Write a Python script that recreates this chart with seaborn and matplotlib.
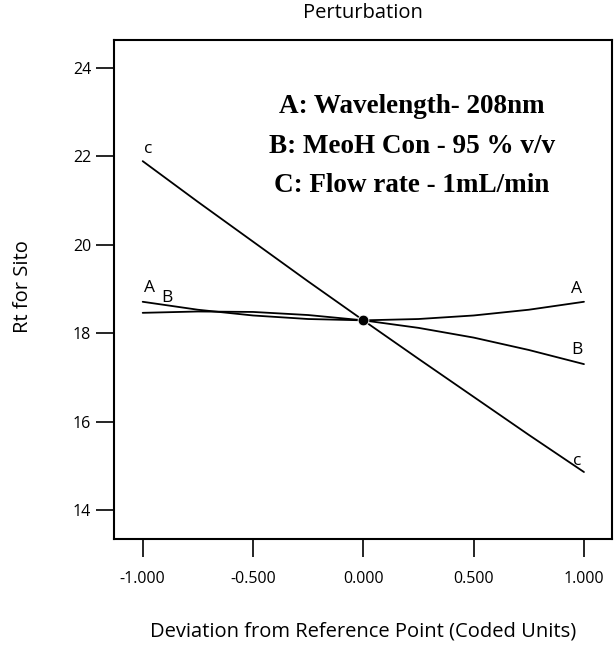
import numpy as np
import pandas as pd
import matplotlib
matplotlib.use("Agg")
import matplotlib.pyplot as plt
import seaborn as sns

# ---------------------------------------------------------
# Data
# ---------------------------------------------------------
deviation = [-1.0, -0.75, -0.5, -0.25, 0.0, 0.25, 0.5, 0.75, 1.0]
rt_a = [18.71, 18.53, 18.40, 18.32, 18.29, 18.32, 18.40, 18.53, 18.71]
rt_b = [18.46, 18.49, 18.48, 18.41, 18.29, 18.12, 17.90, 17.62, 17.30]
rt_c = [21.89, 20.97, 20.07, 19.17, 18.29, 17.42, 16.56, 15.70, 14.86]
factors = ["A", "B", "C"]
end_labels = ["A", "B", "c"]
ref_x = [0.0]
ref_y = [18.29]
x_ticks = [-1.0, -0.5, 0.0, 0.5, 1.0]
y_ticks = [14, 16, 18, 20, 22, 24]
legend_lines = ["A: Wavelength- 208nm", "B: MeoH Con - 95 % v/v", "C: Flow rate - 1mL/min"]

df = pd.DataFrame({
    "x": deviation * 3,
    "rt": rt_a + rt_b + rt_c,
    "factor": [f for f in factors for _ in deviation],
})

sns.set_style("ticks")
plt.rcParams["font.family"] = ["Open Sans", "DejaVu Sans"]
plt.rcParams["text.color"] = "black"
plt.rcParams["axes.labelcolor"] = "black"

fig = plt.figure(figsize=(6.14, 6.47), dpi=100)
ax = fig.add_axes([0.1857, 0.1669, 0.811, 0.7713])

sns.lineplot(data=df, x="x", y="rt", hue="factor", palette=["black"] * 3,
             legend=False, linewidth=1.3, ax=ax)
sns.scatterplot(x=ref_x, y=ref_y, color="black", s=60, zorder=5, ax=ax)

# curve labels at both ends
series = [rt_a, rt_b, rt_c]
left_off = [(0.033, 0.31), (0.11, 0.33), (0.024, 0.27)]
right_off = [(-0.036, 0.28), (-0.032, 0.32), (-0.03, 0.24)]
for lab, ys, lo, ro in zip(end_labels, series, left_off, right_off):
    ax.text(deviation[0] + lo[0], ys[0] + lo[1], lab, fontsize=12.5,
            ha="center", va="center")
    ax.text(deviation[-1] + ro[0], ys[-1] + ro[1], lab, fontsize=12.5,
            ha="center", va="center")

for i, line in enumerate(legend_lines):
    ax.text(0.598, 0.866 - i * 0.079, line, transform=ax.transAxes,
            ha="center", va="center", fontsize=19.5, fontweight="bold",
            family="Liberation Serif")

ax.set_xlim(-1.13, 1.127)
ax.set_ylim(13.345, 24.63)
ax.set_xticks(x_ticks)
ax.set_xticklabels([f"{v:.3f}" for v in x_ticks])
ax.set_yticks(y_ticks)
ax.tick_params(direction="out", length=13, width=1.2, labelsize=11.5, colors="black")
ax.tick_params(axis="x", pad=10)
for sp in ax.spines.values():
    sp.set_visible(True)
    sp.set_linewidth(1.5)
    sp.set_color("black")

ax.set_title("Perturbation", fontsize=14.5, pad=16)
ax.set_xlabel("Deviation from Reference Point (Coded Units)", fontsize=14.5)
ax.set_ylabel("Rt for Sito", fontsize=14.5)
ax.xaxis.set_label_coords(0.5, -0.165)
ax.yaxis.set_label_coords(-0.163, 0.505)

fig.savefig("out.png", dpi=100)
